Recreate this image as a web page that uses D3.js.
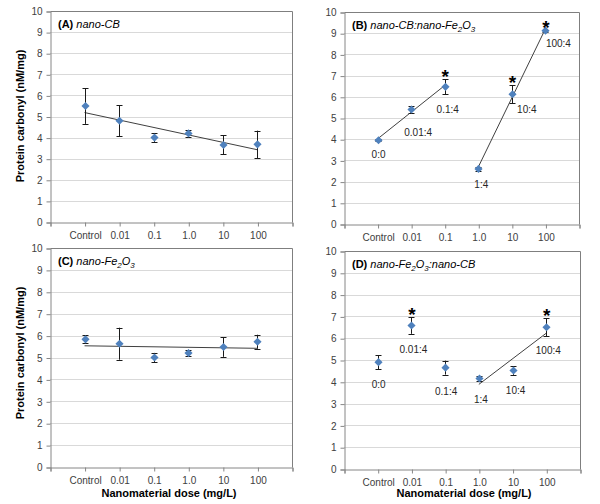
<!DOCTYPE html>
<html>
<head>
<meta charset="utf-8">
<script src="https://cdn.jsdelivr.net/npm/d3@7"></script>
<style>
  body { margin: 0; background: #fff; }
  text { font-family: "Liberation Sans", Arial, sans-serif; }
</style>
</head>
<body>
<svg id="chart" width="600" height="504"></svg>
<script>
// doses on the x axis, and the mixing ratios printed beside the points
var doses  = ["Control", "0.01", "0.1", "1.0", "10", "100"];
var ratios = ["0:0", "0.01:4", "0.1:4", "1:4", "10:4", "100:4"];
var yTicks = [0, 1, 2, 3, 4, 5, 6, 7, 8, 9, 10];

// mean protein carbonyl (nM/mg) and error bar half width
var meanA = [5.5, 4.8, 4.0, 4.2, 3.65, 3.68];
var errA  = [0.85, 0.73, 0.22, 0.15, 0.45, 0.65];
var meanB = [3.95, 5.4, 6.47, 2.6, 6.12, 9.12];
var errB  = [0.05, 0.17, 0.35, 0.1, 0.43, 0.05];
var meanC = [5.83, 5.63, 5.0, 5.2, 5.48, 5.72];
var errC  = [0.18, 0.73, 0.21, 0.15, 0.45, 0.32];
var meanD = [4.9, 6.58, 4.65, 4.15, 4.52, 6.5];
var errD  = [0.32, 0.38, 0.32, 0.1, 0.2, 0.42];

// which points get a significance star
var starsB = [2, 4, 5];
var starsD = [1, 5];

// index ranges fitted with a linear trend line
var trendA = [[0, 5]];
var trendB = [[0, 2], [3, 5]];
var trendC = [[0, 5]];
var trendD = [[3, 5]];

var svg = d3.select("#chart");
var blue = "#4f81bd";

var panels = [
  {id: "A", mean: meanA, err: errA, stars: [], trend: trendA, showRatio: false,
   left: 50, right: 292, top: 11, bottom: 222,
   title: [["(A) ", "b"], ["nano-CB", "i"]]},
  {id: "B", mean: meanB, err: errB, stars: starsB, trend: trendB, showRatio: true,
   left: 344, right: 579, top: 12, bottom: 224,
   title: [["(B) ", "b"], ["nano-CB:nano-Fe", "i"], ["2", "sub"], ["O", "i"], ["3", "sub"]],
   offs: [[1, 14], [7, 22], [3, 22], [3, 15], [15, 15], [13, 12]]},
  {id: "C", mean: meanC, err: errC, stars: [], trend: trendC, showRatio: false,
   left: 50, right: 292, top: 248, bottom: 467,
   title: [["(C) ", "b"], ["nano-Fe", "i"], ["2", "sub"], ["O", "i"], ["3", "sub"]]},
  {id: "D", mean: meanD, err: errD, stars: starsD, trend: trendD, showRatio: true,
   left: 344, right: 580, top: 251, bottom: 469,
   title: [["(D) ", "b"], ["nano-Fe", "i"], ["2", "sub"], ["O", "i"], ["3", "sub"], [":nano-CB", "i"]],
   offs: [[1, 22], [2, 23], [1, 23], [2, 20], [3, 20], [2, 23]]}
];

function fit(mean, lo, hi) {
  // least squares line over positions lo..hi
  var xs = d3.range(lo, hi + 1).map(function(i){ return i + 1 });
  var ys = mean.slice(lo, hi + 1);
  var mx = d3.mean(xs), my = d3.mean(ys);
  var sxy = d3.sum(xs, function(x, k){ return (x - mx) * (ys[k] - my) });
  var sxx = d3.sum(xs, function(x){ return (x - mx) * (x - mx) });
  var b = sxy / sxx;
  return [[xs[0], my + b * (xs[0] - mx)], [xs[xs.length - 1], my + b * (xs[xs.length - 1] - mx)]];
}

function styleAxis(a) {
  a.select(".domain").attr("stroke", "#868686");
  a.selectAll(".tick line").attr("stroke", "#868686");
  a.selectAll("text").attr("fill", "#404040").style("font-size", "10px")
    .style("font-family", "'Liberation Sans', Arial, sans-serif");
}

function drawPanel(p) {
  var x = d3.scaleLinear().domain([0, 7]).range([p.left, p.right]);
  var y = d3.scaleLinear().domain([0, 10]).range([p.bottom, p.top]);
  var g = svg.append("g").attr("class", "panel panel" + p.id);

  // gridlines
  g.selectAll("line.grid")
    .data(yTicks.slice(1, 10)).enter()
    .append("line")
      .attr("class", "grid")
      .attr("x1", p.left).attr("x2", p.right)
      .attr("y1", function(d){ return Math.round(y(d)) + 0.5 })
      .attr("y2", function(d){ return Math.round(y(d)) + 0.5 })
      .attr("stroke", "#d9d9d9");

  // frame (top + right)
  g.append("path")
    .attr("d", "M" + (p.left + 0.5) + "," + (p.top + 0.5) + "H" + (p.right + 0.5) + "V" + (p.bottom + 0.5))
    .attr("fill", "none")
    .attr("stroke", "#7f7f7f");

  // y axis
  var yAxis = d3.axisLeft(y).tickValues(yTicks).tickSize(4).tickPadding(4).tickFormat(d3.format("d"));
  g.append("g")
    .attr("transform", "translate(" + (p.left + 0.5) + ",0.5)")
    .call(yAxis)
    .call(styleAxis);

  // x axis: ticks at every position, labels for doses
  var xAxis = d3.axisBottom(x).tickValues(d3.range(0, 8)).tickSize(4).tickPadding(5)
    .tickFormat(function(d){ return (d >= 1 && d <= 6) ? doses[d - 1] : "" });
  g.append("g")
    .attr("transform", "translate(0.5," + (p.bottom + 0.5) + ")")
    .call(xAxis)
    .call(styleAxis);

  // trend lines
  var line = d3.line().x(function(d){ return x(d[0]) }).y(function(d){ return y(d[1]) });
  p.trend.forEach(function(r){
    g.append("path")
      .attr("d", line(fit(p.mean, r[0], r[1])))
      .attr("fill", "none")
      .attr("stroke", "#404040")
      .attr("stroke-width", 1);
  });

  var pts = p.mean.map(function(m, i){ return {i: i, m: m, e: p.err[i]} });

  // error bars
  var eb = g.selectAll("g.err").data(pts).enter().append("g").attr("class", "err")
    .attr("stroke", "#1a1a1a").attr("stroke-width", 1);
  eb.append("line")
    .attr("x1", function(d){ return Math.round(x(d.i + 1)) + 0.5 })
    .attr("x2", function(d){ return Math.round(x(d.i + 1)) + 0.5 })
    .attr("y1", function(d){ return y(d.m - d.e) })
    .attr("y2", function(d){ return y(d.m + d.e) });
  [-1, 1].forEach(function(s){
    eb.append("line")
      .attr("x1", function(d){ return Math.round(x(d.i + 1)) - 2.5 })
      .attr("x2", function(d){ return Math.round(x(d.i + 1)) + 3.5 })
      .attr("y1", function(d){ return Math.round(y(d.m + s * d.e)) + 0.5 })
      .attr("y2", function(d){ return Math.round(y(d.m + s * d.e)) + 0.5 });
  });

  // diamond markers
  var diamond = d3.symbol().type(d3.symbolDiamond2).size(42);
  g.selectAll("path.pt").data(pts).enter()
    .append("path")
      .attr("class", "pt")
      .attr("d", diamond)
      .attr("transform", function(d){ return "translate(" + (Math.round(x(d.i + 1)) + 0.5) + "," + y(d.m) + ")" })
      .attr("fill", blue);

  // ratio labels
  if (p.showRatio) {
    g.selectAll("text.ratio").data(pts).enter()
      .append("text")
        .attr("class", "ratio")
        .attr("x", function(d){ return x(d.i + 1) + p.offs[d.i][0] })
        .attr("y", function(d){ return y(d.m) + p.offs[d.i][1] + 4 })
        .attr("text-anchor", "middle")
        .attr("fill", "#262626")
        .style("font-size", "10px")
        .text(function(d){ return ratios[d.i] });
  }

  // significance stars
  g.selectAll("text.star").data(p.stars).enter()
    .append("text")
      .attr("class", "star")
      .attr("x", function(i){ return x(i + 1) + 0.5 })
      .attr("y", function(i){ return y(p.mean[i] + p.err[i]) + 4 })
      .attr("text-anchor", "middle")
      .style("font-size", "19px")
      .style("font-weight", "bold")
      .attr("fill", "#000")
      .text("*");

  // panel title
  var t = g.append("text")
    .attr("x", p.left + 8)
    .attr("y", p.top + 17)
    .style("font-size", "11px")
    .attr("fill", "#000");
  var dropped = false;
  p.title.forEach(function(part){
    var s = t.append("tspan").text(part[0]);
    if (part[1] == "b") s.style("font-weight", "bold");
    if (part[1] == "i") {
      s.style("font-style", "italic");
      if (dropped) { s.attr("dy", -3); dropped = false; }
    }
    if (part[1] == "sub") {
      s.style("font-style", "italic").style("font-size", "8px").attr("dy", 3);
      dropped = true;
    }
  });
}

panels.forEach(drawPanel);

// axis titles
var yTitles = [116, 353];
yTitles.forEach(function(cy){
  svg.append("text")
    .attr("transform", "translate(24," + cy + ") rotate(-90)")
    .attr("text-anchor", "middle")
    .style("font-size", "11px")
    .style("font-weight", "bold")
    .attr("fill", "#000")
    .text("Protein carbonyl (nM/mg)");
});
var xTitles = [[169, 497], [464, 497]];
xTitles.forEach(function(c){
  svg.append("text")
    .attr("x", c[0]).attr("y", c[1])
    .attr("text-anchor", "middle")
    .style("font-size", "11px")
    .style("font-weight", "bold")
    .attr("fill", "#000")
    .text("Nanomaterial dose (mg/L)");
});
</script>
</body>
</html>
